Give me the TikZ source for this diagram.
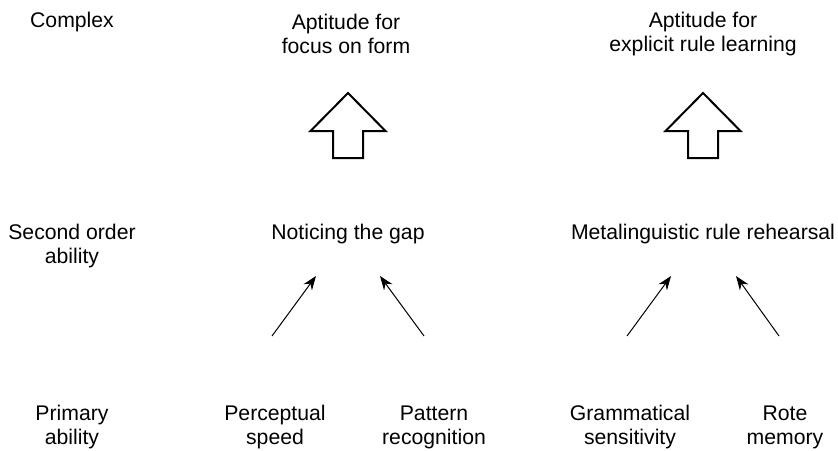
\documentclass[tikz,border=0pt]{standalone}
\usepackage{fontspec}
\setmainfont{Liberation Sans}
\usetikzlibrary{arrows.meta, positioning}
\begin{document}
\begin{tikzpicture}[x=0.5pt, y=-0.5pt]
% Define styles
\tikzstyle{txt} = [align=center, inner sep=0pt, font=\fontsize{10.6}{12}\selectfont]
\tikzstyle{arrow} = [line width=0.5pt, -{Stealth[length=7pt, width=5.2pt]}]
\tikzstyle{bigarrow} = [line width=1pt, line join=miter]
\useasboundingbox (0,0) rectangle (838,450);

% Complex
\node (complex) [txt] at (72,22) {Complex};
\node (focus) [txt] at (346,34) {Aptitude for\\ focus on form};
\node (explicit) [txt] at (703,34) {Aptitude for\\ explicit rule learning};

% Second order ability
\node (second) [txt] at (72,246) {Second order\\ ability};
\node (gap) [txt] at (348,234) {Noticing the gap};
\node (rehearsal) [txt] at (703,234) {Metalinguistic rule rehearsal};

% Primary ability
\node (primary) [txt] at (72,427) {Primary\\ ability};
\node (speed) [txt] at (275,427) {Perceptual\\ speed};
\node (pattern) [txt] at (434,427) {Pattern\\ recognition};
\node (grammar) [txt] at (630,427) {Grammatical\\ sensitivity};
\node (rote) [txt] at (785,427) {Rote\\ memory};

% Big arrows
\foreach \x in {348,703}
  \draw [bigarrow] (\x,93) -- (\x+37.5,131) -- (\x+15,131) -- (\x+15,158)
    -- (\x-15,158) -- (\x-15,131) -- (\x-37.5,131) -- cycle;

% Small arrows
\coordinate (speedend) at (272,336);
\coordinate (gapleft) at (316,276);
\coordinate (patternend) at (424,336);
\coordinate (gapright) at (380,276);
\coordinate (grammarend) at (627,336);
\coordinate (rehearsalleft) at (671,276);
\coordinate (roteend) at (779,336);
\coordinate (rehearsalright) at (736,276);
\draw [arrow] (speedend) -- (gapleft);
\draw [arrow] (patternend) -- (gapright);
\draw [arrow] (grammarend) -- (rehearsalleft);
\draw [arrow] (roteend) -- (rehearsalright);
\end{tikzpicture}
\end{document}
